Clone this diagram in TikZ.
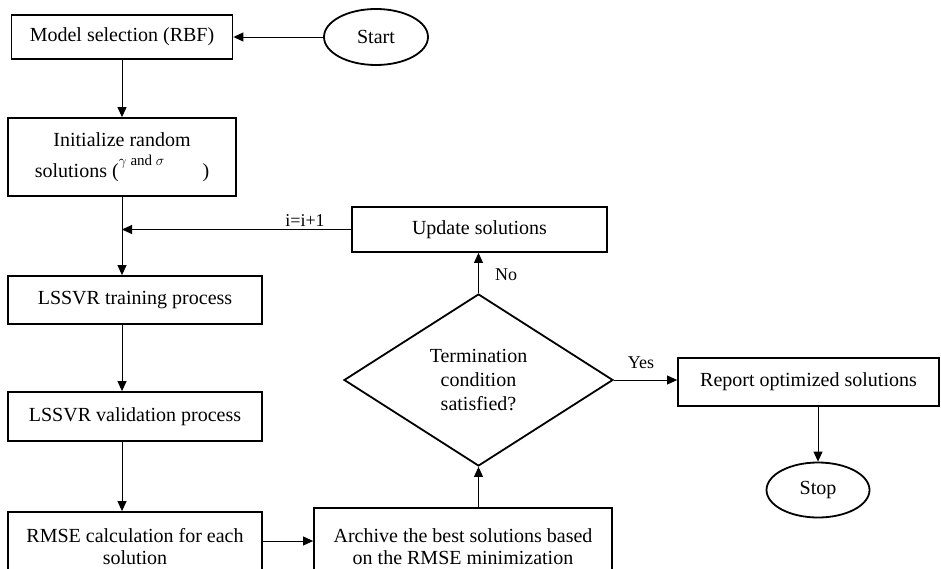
\documentclass[tikz,border=0pt]{standalone}
\usepackage{fontspec}
\setmainfont{Liberation Serif}
\usetikzlibrary{shapes.geometric,arrows.meta}
\newcommand{\boxline}{1.8pt}
\newcommand{\arrline}{0.9pt}

\begin{document}
\begin{tikzpicture}[x=1pt,y=-1pt,
    font=\fontsize{20}{24}\selectfont,
    procbox/.style={draw, rectangle, line width=\boxline, inner sep=0pt, align=center},
    termnode/.style={draw, ellipse, line width=\boxline, inner sep=0pt},
    decnode/.style={draw, diamond, line width=\boxline, inner sep=0pt, align=center},
    flow/.style={line width=\arrline, -{Triangle[length=10pt,width=9pt]}},
    lbl/.style={font=\fontsize{18}{22}\selectfont, inner sep=0pt}]
      \clip (0,0) rectangle (941,569);
      \node (model) at (122,37)  [procbox, minimum width=221pt, minimum height=44pt] {Model selection (RBF)};
      \node (start) at (376,37)  [termnode, minimum width=104pt, minimum height=56pt] {Start};
      \node (init) at (122,157)  [procbox, minimum width=228pt, minimum height=78pt] {Initialize random\\[7pt]solutions (\raisebox{12pt}{\fontsize{15}{18}\selectfont$\gamma$ and $\sigma$}\hspace{1.9em})};
      \node (update) at (479.5,229.5)  [procbox, minimum width=255pt, minimum height=45pt] {Update solutions};
      \node (train) at (135,300)  [procbox, minimum width=254pt, minimum height=48pt] {LSSVR training process};
      \node (valid) at (135,416.5)  [procbox, minimum width=254pt, minimum height=49pt] {LSSVR validation process};
      \node (rmse) at (135,547)  [procbox, minimum width=254pt, minimum height=70pt] {RMSE calculation for each\\[-2pt]solution};
      \node (archive) at (463,547)  [procbox, minimum width=298pt, minimum height=78pt] {Archive the best solutions based\\[-2pt]on the RMSE minimization};
      \node (dec) at (478.5,380)  [decnode, minimum width=269pt, minimum height=172pt] {Termination\\condition\\satisfied?};
      \node (report) at (808.5,382)  [procbox, minimum width=261pt, minimum height=48pt] {Report optimized solutions};
      \node (stop) at (818,490)  [termnode, minimum width=103pt, minimum height=55pt] {Stop};
      \node (inc) at (305,221)  [lbl] {i=i+1};
      \node (no) at (506,275)  [lbl] {No};
      \node (yes) at (641,363)  [lbl] {Yes};
      \draw[flow] (start) to (model);
      \draw[flow] (model) to (init);
      \draw[flow] (init.south) to (init.south |- train.north);
      \draw[flow] (update.west) to (update.west -| init.south);
      \draw[flow] (train.south -| init.south) to (valid.north -| init.south);
      \draw[flow] (valid.south -| init.south) to (rmse.north -| init.south);
      \draw[flow] (rmse.east |- 0,541) to (archive.west |- 0,541);
      \draw[flow] (archive.north -| dec.south) to (dec.south);
      \draw[flow] (dec.north) to (dec.north |- update.south);
      \draw[flow] (dec.east) to (dec.east -| report.west);
      \draw[flow] (stop.north |- report.south) to (stop.north);

  \end{tikzpicture}
\end{document}
